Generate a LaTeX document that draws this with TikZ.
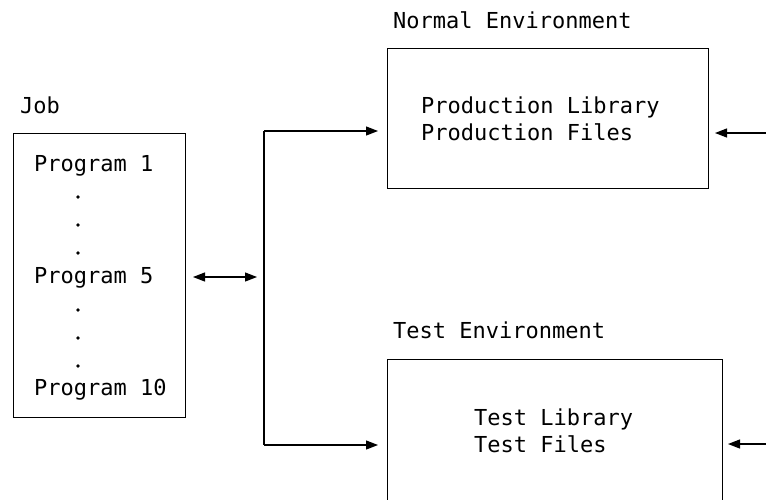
\documentclass[tikz,border=0pt]{standalone}
\usepackage{fontspec}
\setmonofont{DejaVu Sans Mono}
\usetikzlibrary{arrows.meta}
\tikzset{
  box/.style={draw, line width=1.2pt, inner sep=0pt, anchor=north west},
  txt/.style={font=\ttfamily\fontsize{22pt}{26pt}\selectfont, anchor=base west, inner sep=0pt},
  dotn/.style={circle, fill, inner sep=0pt, minimum size=3.6pt},
  conn/.style={line width=1.2pt},
  arr/.style={conn, -{Triangle[length=12pt,width=9pt]}},
  darr/.style={conn, {Triangle[length=12pt,width=9pt]}-{Triangle[length=12pt,width=9pt]}},
}
\begin{document}
\begin{tikzpicture}[x=1pt,y=-1pt]
\useasboundingbox (0,0) rectangle (766,499);
\clip (0,0) rectangle (766,499);
% boxes
\node[box, minimum width=172pt, minimum height=284pt] (job) at (13,133) {};
\node[box, minimum width=321pt, minimum height=140pt] (normal) at (387,48) {};
\node[box, minimum width=335pt, minimum height=180pt] (test) at (387,359) {};
% labels
\node[txt] (joblbl) at (20,113) {Job};
\node[txt] (p1) at (34,171) {Program 1};
\node[txt] (p5) at (34,283) {Program 5};
\node[txt] (p10) at (34,395) {Program 10};
\node[dotn] (d1) at (78,197) {};
\node[dotn] (d2) at (78,225) {};
\node[dotn] (d3) at (78,253) {};
\node[dotn] (d4) at (78,310) {};
\node[dotn] (d5) at (78,338) {};
\node[dotn] (d6) at (78,366) {};
\node[txt] (normlbl) at (393,28) {Normal Environment};
\node[txt] (plib) at (421,113) {Production Library};
\node[txt] (pfiles) at (421,140) {Production Files};
\node[txt] (testlbl) at (393,338) {Test Environment};
\node[txt] (tlib) at (474,425) {Test Library};
\node[txt] (tfiles) at (474,452) {Test Files};
% connector points
\coordinate (da1) at (193,277);
\coordinate (da2) at (257,277);
\coordinate (sp1) at (264,131);
\coordinate (sp2) at (264,445);
\coordinate (tn) at (378,131);
\coordinate (tt) at (378,445);
\coordinate (rn0) at (768,133);
\coordinate (rn1) at (715,133);
\coordinate (rt0) at (768,444);
\coordinate (rt1) at (728,444);
% connectors
\draw[darr] (da1) -- (da2);
\draw[conn] (sp1) -- (sp2);
\draw[arr] (sp1) -- (tn);
\draw[arr] (sp2) -- (tt);
\draw[arr] (rn0) -- (rn1);
\draw[arr] (rt0) -- (rt1);
\end{tikzpicture}
\end{document}
